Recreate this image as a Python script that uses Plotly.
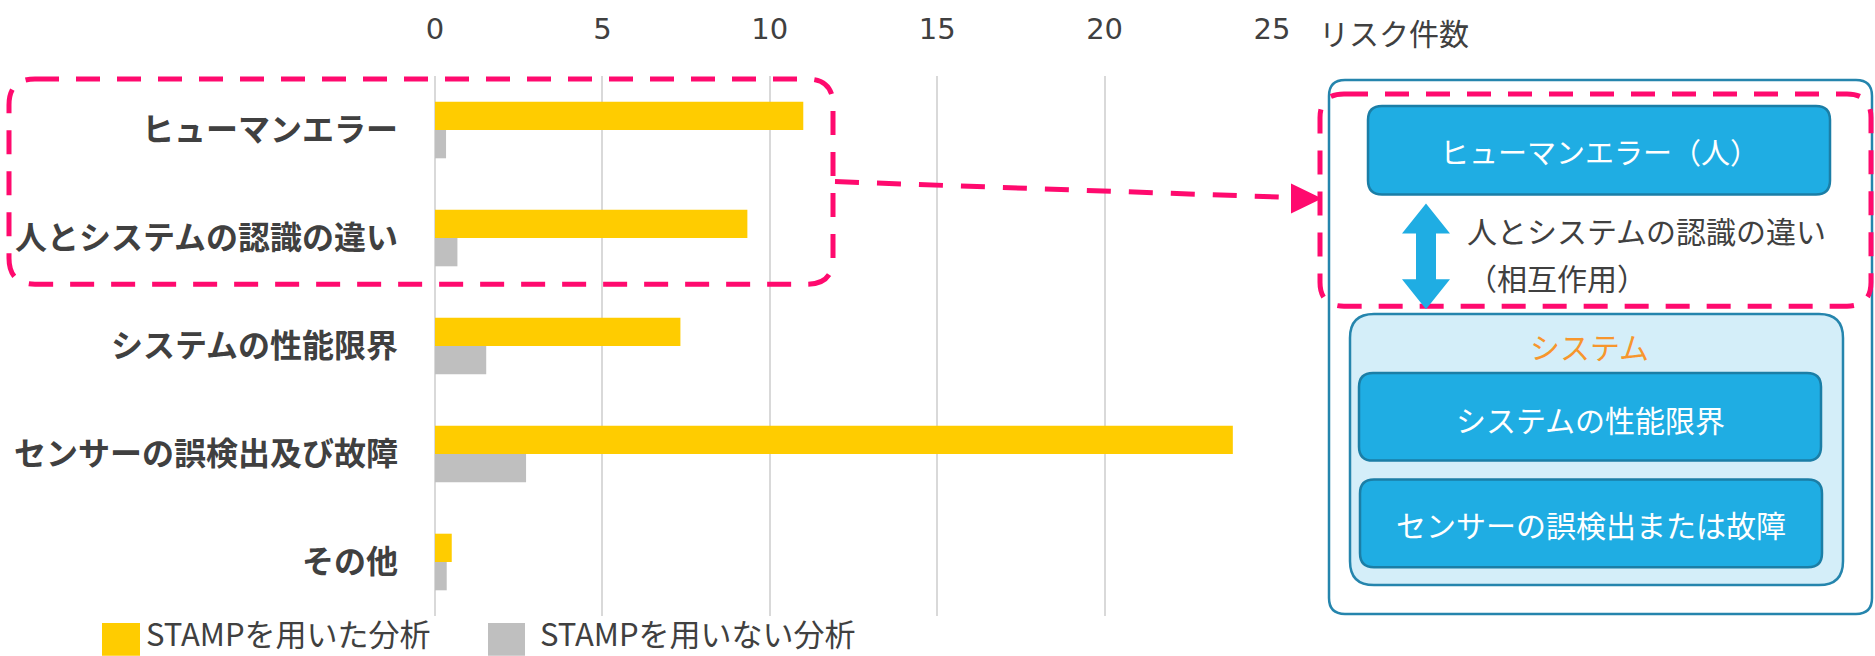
import plotly.graph_objects as go

# ---------------- data ----------------
categories = ["ヒューマンエラー", "人とシステムの認識の違い", "システムの性能限界",
              "センサーの誤検出及び故障", "その他"]
stamp_values = [11.0, 9.33, 7.33, 23.83, 0.5]
non_stamp_values = [0.33, 0.67, 1.53, 2.72, 0.35]
series_names = ["STAMPを用いた分析", "STAMPを用いない分析"]
series_colors = ["#FFCC00", "#BFBFBF"]
x_ticks = [0, 5, 10, 15, 20, 25]
axis_title = "リスク件数"
human_box_label = "ヒューマンエラー（人）"
interaction_lines = ["人とシステムの認識の違い", "（相互作用）"]
system_title = "システム"
system_box_labels = ["システムの性能限界", "センサーの誤検出または故障"]

# ---------------- geometry helpers (pixel -> paper) ----------------
W, H = 1875, 656
L, R, T, B = 435, 1272, 74, 616


def X(px):
    return (px - L) / (R - L)


def Y(py):
    return (B - py) / (B - T)


def rrect(x0, y0, x1, y1, r):
    return (f"M{X(x0 + r)},{Y(y0)} L{X(x1 - r)},{Y(y0)} Q{X(x1)},{Y(y0)} {X(x1)},{Y(y0 + r)} "
            f"L{X(x1)},{Y(y1 - r)} Q{X(x1)},{Y(y1)} {X(x1 - r)},{Y(y1)} "
            f"L{X(x0 + r)},{Y(y1)} Q{X(x0)},{Y(y1)} {X(x0)},{Y(y1 - r)} "
            f"L{X(x0)},{Y(y0 + r)} Q{X(x0)},{Y(y0)} {X(x0 + r)},{Y(y0)} Z")


def poly(pts):
    return "M" + " L".join(f"{X(a)},{Y(b)}" for a, b in pts) + " Z"


TXT = "#404040"
JP = "Noto Sans CJK JP"
PINK = "#FF0A6E"
BLUE = "#1FADE3"
BLUE_EDGE = "#1B7EA6"
TEAL = "#2585AD"

fig = go.Figure()
fig.add_trace(go.Bar(y=categories, x=stamp_values, name=series_names[0], orientation="h",
                     marker=dict(color=series_colors[0], line=dict(width=0))))
fig.add_trace(go.Bar(y=categories, x=non_stamp_values, name=series_names[1], orientation="h",
                     marker=dict(color=series_colors[1], line=dict(width=0))))

shapes = []
# outer teal panel
shapes.append(dict(type="path", xref="paper", yref="paper", path=rrect(1329, 78, 1872, 614, 16),
                   line=dict(color=TEAL, width=2.5), fillcolor="white", layer="below"))
# system light-blue box
shapes.append(dict(type="path", xref="paper", yref="paper", path=rrect(1350, 313, 1843, 585, 24),
                   line=dict(color=TEAL, width=2.5), fillcolor="#D4EEF9"))
# human error box
shapes.append(dict(type="path", xref="paper", yref="paper", path=rrect(1368, 104, 1830, 193, 14),
                   line=dict(color=BLUE_EDGE, width=2.5), fillcolor=BLUE))
# system boxes
shapes.append(dict(type="path", xref="paper", yref="paper", path=rrect(1359, 372, 1821, 460, 14),
                   line=dict(color=BLUE_EDGE, width=2.5), fillcolor=BLUE))
shapes.append(dict(type="path", xref="paper", yref="paper", path=rrect(1360, 479, 1822, 567, 14),
                   line=dict(color=BLUE_EDGE, width=2.5), fillcolor=BLUE))
# pink dashed boxes
shapes.append(dict(type="path", xref="paper", yref="paper", path=rrect(9, 77, 833, 283, 26),
                   line=dict(color=PINK, width=5, dash="24px,17px")))
shapes.append(dict(type="path", xref="paper", yref="paper", path=rrect(1320, 92, 1871, 305, 24),
                   line=dict(color=PINK, width=5, dash="24px,17px")))
# pink dashed arrow
shapes.append(dict(type="line", xref="paper", yref="paper", x0=X(835), y0=Y(180), x1=X(1292), y1=Y(196),
                   line=dict(color=PINK, width=5, dash="24px,18px")))
shapes.append(dict(type="path", xref="paper", yref="paper",
                   path=poly([(1291, 182), (1322, 197), (1291, 212)]),
                   line=dict(color=PINK, width=0), fillcolor=PINK))
# blue double arrow
shapes.append(dict(type="path", xref="paper", yref="paper",
                   path=poly([(1426, 202), (1450, 232), (1436, 232), (1436, 278), (1450, 278),
                              (1426, 308), (1402, 278), (1416, 278), (1416, 232), (1402, 232)]),
                   line=dict(color=BLUE, width=0), fillcolor=BLUE))
# custom legend squares
shapes.append(dict(type="rect", xref="paper", yref="paper", x0=X(102), x1=X(140), y0=Y(623), y1=Y(656),
                   line=dict(width=0), fillcolor=series_colors[0]))
shapes.append(dict(type="rect", xref="paper", yref="paper", x0=X(488), x1=X(525), y0=Y(623), y1=Y(656),
                   line=dict(width=0), fillcolor=series_colors[1]))


def ann(text, px, py, size, color, xanchor="center"):
    return dict(text=text, x=X(px), y=Y(py), xref="paper", yref="paper", showarrow=False,
                xanchor=xanchor, yanchor="middle", borderpad=0,
                font=dict(family=JP, size=size, color=color))


annotations = [
    ann(axis_title, 1394, 30, 30, TXT),
    ann(human_box_label, 1599, 149, 29, "white"),
    ann(interaction_lines[0], 1466, 229, 30, TXT, "left"),
    ann(interaction_lines[1], 1466, 276, 30, TXT, "left"),
    ann(system_title, 1589, 345, 30, "#F7962D"),
    ann(system_box_labels[0], 1590, 418, 30, "white"),
    ann(system_box_labels[1], 1591, 524, 30, "white"),
    ann(series_names[0], 145, 633, 31, TXT, "left"),
    ann(series_names[1], 539, 633, 31, TXT, "left"),
]

fig.update_layout(
    width=W, height=H,
    margin=dict(l=L, r=W - R, t=T, b=H - B, pad=0),
    paper_bgcolor="white", plot_bgcolor="white",
    barmode="group", bargap=0.476, bargroupgap=0,
    showlegend=False,
    shapes=shapes, annotations=annotations,
    xaxis=dict(side="top", range=[0, 25], tickvals=x_ticks, ticktext=[str(v) for v in x_ticks],
               showgrid=True, gridcolor="#D9D9D9", gridwidth=2, zeroline=True, zerolinecolor="#D9D9D9",
               zerolinewidth=2, showline=False, ticks="", ticklabelstandoff=30,
               tickfont=dict(family="DejaVu Sans", size=29, color=TXT), fixedrange=True),
    yaxis=dict(autorange="reversed", showgrid=False, zeroline=False, showline=False, ticks="",
               ticklabelstandoff=36, tickfont=dict(family=JP, size=32, color=TXT, weight="bold"),
               fixedrange=True),
)

fig.write_html("out.html")
